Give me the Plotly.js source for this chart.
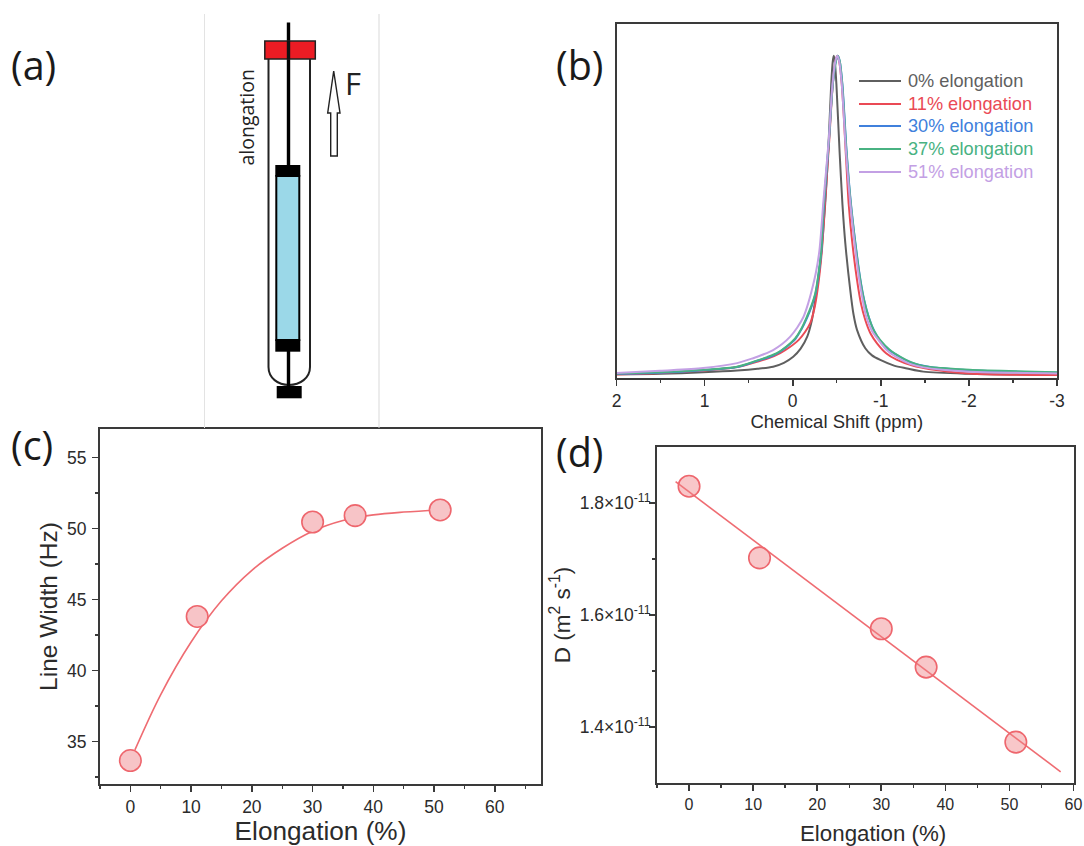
<!DOCTYPE html>
<html>
<head>
<meta charset="utf-8">
<script src="https://cdn.plot.ly/plotly-3.0.1.min.js"></script>
<style>html,body{margin:0;padding:0;background:#fff}#chart{width:1084px;height:846px}</style>
</head>
<body>
<div id="chart"></div>
<script>
// Panel (b): NMR line shapes, x in ppm, y in % of the (unlabelled) intensity axis
const seriesNames = ['0% elongation','11% elongation','30% elongation','37% elongation','51% elongation'];
const seriesColors = ['#5f5f5f','#ea4a55','#4080dc','#48b282','#c3a0e4'];

const ppm0 = [2,1.506,1.017,0.631,0.4,0.222,0.1,-0.006,-0.09,-0.165,-0.215,-0.256,-0.313,-0.364,-0.403,-0.437,-0.455,-0.466,-0.478,-0.496,-0.532,-0.565,-0.597,-0.653,-0.69,-0.73,-0.824,-0.9,-0.994,-1.15,-1.298,-1.483,-1.994,-3];
const int0 = [1.05,1.2,1.6,2.1,2.6,3.2,4.3,6,8.3,11.7,16,22,32.5,47.5,64,83,89.5,91,89.5,83,64,48.9,38.1,24.9,18,13.6,8.4,6.4,5.1,3.5,2.7,1.8,1.2,0.85];

const ppm11 = [2,1.506,1.017,0.631,0.408,0.27,0.142,0.04,-0.066,-0.14,-0.199,-0.245,-0.282,-0.332,-0.364,-0.415,-0.455,-0.485,-0.506,-0.527,-0.557,-0.606,-0.636,-0.673,-0.73,-0.775,-0.824,-0.885,-0.957,-1.06,-1.184,-1.36,-1.563,-1.998,-3];
const int11 = [1,1.4,2.1,3.1,4.6,5.6,7,8.6,10.7,13,15.5,19.5,24.9,36.2,48.5,67.2,83,89.5,91,89.5,83,62,49,39,27.7,21,16.4,12.5,9.8,7,5.1,3.5,2.5,1.3,0.85];

const ppm30 = [2,1.506,1.017,0.631,0.408,0.28,0.18,0.07,-0.03,-0.1,-0.163,-0.215,-0.258,-0.29,-0.326,-0.352,-0.41,-0.455,-0.49,-0.512,-0.534,-0.564,-0.612,-0.657,-0.712,-0.769,-0.812,-0.865,-0.925,-0.994,-1.1,-1.222,-1.35,-1.563,-2.008,-3];
const int30 = [1.2,1.5,2.2,3.1,4.8,5.8,6.9,8.8,11,13.8,17,20.2,23.7,28.5,36,47.5,66.5,83,89.5,91,89.5,83,64,50.3,38.1,27.7,22,17.1,13.3,10.5,7.8,5.9,4.3,3.1,2.2,1.5];

const ppm37 = [2,1.506,1.017,0.631,0.408,0.29,0.18,0.07,-0.028,-0.1,-0.161,-0.21,-0.256,-0.29,-0.324,-0.35,-0.41,-0.455,-0.49,-0.511,-0.534,-0.562,-0.61,-0.655,-0.71,-0.767,-0.81,-0.861,-0.92,-0.994,-1.1,-1.222,-1.35,-1.482,-1.7,-2.008,-3];
const int37 = [1.3,1.6,2.3,3.2,4.9,5.9,7,8.9,11.2,14,17.3,20.3,23.9,29,36.2,48,67,83,89.5,91,89.5,83,64,50.3,38.1,27.7,22,17.3,13.5,10.7,8,6,4.4,3.4,2.8,2.3,1.6];

const ppm51 = [2,1.506,1.017,0.631,0.449,0.33,0.222,0.12,0.028,-0.05,-0.123,-0.175,-0.218,-0.265,-0.304,-0.35,-0.409,-0.452,-0.484,-0.506,-0.528,-0.557,-0.605,-0.65,-0.702,-0.756,-0.795,-0.835,-0.9,-0.974,-1.07,-1.184,-1.33,-1.483,-1.7,-2.008,-3];
const int51 = [1.4,2.06,2.8,4.2,5.6,6.7,7.9,9.6,11.7,14.2,17.3,21,24.9,30,36.2,50.3,67.2,83,89.5,91,89.5,83,64,50.3,38.1,27.7,22,17.3,13.3,10.7,7.8,5.8,4,3,2.3,1.8,1.3];

const ppmSets = [ppm0,ppm11,ppm30,ppm37,ppm51];
const intSets = [int0,int11,int30,int37,int51];

// Panels (c) and (d): shared elongation values
const elongation = [0,11,30,37,51];
const lineWidthHz = [33.65,43.8,50.45,50.9,51.3];
const lineWidthFitX = [0.75,5,10,15,20,25,30,35,40,45,51];
const lineWidthFitY = [34.4,38.3,42,44.9,47.05,48.6,49.8,50.55,50.95,51.15,51.3];

const diffusion = [1.830e-11,1.702e-11,1.5755e-11,1.507e-11,1.373e-11];
const diffusionFitX = [-2.1,58];
const diffusionFitY = [1.838e-11,1.32e-11];
const diffusionTicks = [1.4e-11,1.6e-11,1.8e-11];
const diffusionTickText = ['1.4×10<sup>-11</sup>','1.6×10<sup>-11</sup>','1.8×10<sup>-11</sup>'];
const shiftTicks = [2,1,0,-1,-2,-3];
const shiftTickText = ['2','1','0','-1','-2','-3'];

// ---- layout helpers: pixel position on the 1084x846 page -> paper fraction
const W = 1084, H = 846;
const fx = x => x / W, fy = y => 1 - y / H;
const dx = (a,b) => [fx(a), fx(b)];
const dy = (top,bot) => [fy(bot), fy(top)];
const P = (cmds) => cmds.map(c => typeof c === 'string' ? c : fx(c[0]) + ',' + fy(c[1])).join(' ');

const FONT = 'Liberation Sans, Arial, sans-serif';
const INK = '#2b2b2b', AXIS = '#3a3a3a', FIT = '#ef6c72';

function axis(extra){
  return Object.assign({
    showgrid:false, zeroline:false, showline:true, mirror:true,
    linecolor:AXIS, linewidth:2, ticks:'outside', ticklen:6, tickwidth:1.6, tickcolor:AXIS,
    tickfont:{family:FONT,size:17.5,color:INK}, automargin:false
  }, extra);
}

const traces = [];
seriesNames.forEach((n,i) => traces.push({
  type:'scatter', mode:'lines', name:n, x:ppmSets[i], y:intSets[i], xaxis:'x', yaxis:'y',
  line:{color:seriesColors[i],width:2,shape:'spline',smoothing:0.8}, showlegend:false
}));
traces.push({type:'scatter',mode:'lines',name:'Line width fit',x:lineWidthFitX,y:lineWidthFitY,xaxis:'x2',yaxis:'y2',
  line:{color:FIT,width:1.6,shape:'spline',smoothing:1},showlegend:false});
traces.push({type:'scatter',mode:'markers',name:'Line width',x:elongation,y:lineWidthHz,xaxis:'x2',yaxis:'y2',
  marker:{size:21.5,color:'#f7c4c7',line:{color:'#ee666d',width:1.6}},showlegend:false});
traces.push({type:'scatter',mode:'lines',name:'D fit',x:diffusionFitX,y:diffusionFitY,xaxis:'x3',yaxis:'y3',
  line:{color:FIT,width:1.6},showlegend:false});
traces.push({type:'scatter',mode:'markers',name:'D',x:elongation,y:diffusion,xaxis:'x3',yaxis:'y3',
  marker:{size:21.5,color:'rgba(240,130,136,0.45)',line:{color:'#ee666d',width:1.6}},showlegend:false});

const shapes = [];
const rect = (x0,y0,x1,y1,fill,lc,lw) => shapes.push({type:'rect',xref:'paper',yref:'paper',
  x0:fx(x0),x1:fx(x1),y0:fy(y0),y1:fy(y1),fillcolor:fill,line:{color:lc||fill,width:lw===undefined?0:lw},layer:'above'});
const seg = (x0,y0,x1,y1,c,w) => shapes.push({type:'line',xref:'paper',yref:'paper',
  x0:fx(x0),x1:fx(x1),y0:fy(y0),y1:fy(y1),line:{color:c,width:w},layer:'above'});
const path = (cmds,fill,c,w) => shapes.push({type:'path',xref:'paper',yref:'paper',path:P(cmds),
  fillcolor:fill,line:{color:c,width:w},layer:'above'});

// Schematic (a)
seg(204.5,14,204.5,428,'#e3e3e3',1);
seg(379,14,379,428,'#d9d9d9',1);
path(['M',[268.5,59],'L',[268.5,367],'C',[268.5,378],[278,385],[289,385],'C',[300,385],[310,378],[310,367],'L',[310,59]],'rgba(0,0,0,0)','#222',2);
seg(288.5,22.5,288.5,398,'#000',3.4);
rect(264.8,41,315.3,59,'#ec1c24','#222',1.5);
seg(288.5,41,288.5,59,'#111',3.4);
rect(276.3,176,299.3,340,'#9bd8e8','#000',2);
rect(275.3,165,300.3,176.7,'#000');
rect(275.3,339.3,300.3,351.7,'#000');
rect(276.7,386,301.7,398.3,'#000');
path(['M',[333.7,71],'L',[340,113],'L',[337.3,113],'L',[337.3,156],'L',[330.7,156],'L',[330.7,113],'L',[327.7,113],'Z'],'#fff','#222',1.4);

// Legend keys of panel (b)
const legendRows = [81,104,126,149,172];
legendRows.forEach((y,i) => seg(859,y,901,y,seriesColors[i],i===0?2:1.8));

const ann = (x,y,text,size,color,family,extra) => Object.assign({xref:'paper',yref:'paper',x:fx(x),y:fy(y),
  text,showarrow:false,xanchor:'left',yanchor:'middle',font:{family:family||FONT,size,color:color||INK}},extra||{});
const annotations = [
  ann(9,65,'(a)',39.5,'#1a1a1a','Open Sans'),
  ann(554,65,'(b)',39.5,'#1a1a1a','Open Sans'),
  ann(9,445,'(c)',39.5,'#1a1a1a','Open Sans'),
  ann(554,452,'(d)',39.5,'#1a1a1a','Open Sans'),
  ann(343,83,'F',31,'#222','Open Sans'),
  ann(246.5,118,'alongation',19.5,'#222','Open Sans',{textangle:-90,xanchor:'center'}),
  ann(873,833,'Elongation (%)',22.3,INK,FONT,{xanchor:'center'})
];
seriesNames.forEach((n,i) => annotations.push(ann(906,legendRows[i],n,18.2,seriesColors[i])));

const layout = {
  width:W,height:H,margin:{l:0,r:0,t:0,b:0,pad:0},paper_bgcolor:'#fff',plot_bgcolor:'rgba(0,0,0,0)',
  showlegend:false,shapes,annotations,
  xaxis:axis({domain:dx(616.5,1057),anchor:'y',range:[2,-3],tickvals:shiftTicks,ticktext:shiftTickText,
    minor:{dtick:0.5,ticks:'outside',ticklen:3,tickwidth:1.4,tickcolor:AXIS},
    title:{text:'Chemical Shift (ppm)',font:{family:FONT,size:18.5,color:INK},standoff:1}}),
  yaxis:axis({domain:dy(24,378),anchor:'x',range:[0,100],ticks:'',showticklabels:false}),
  xaxis2:axis({domain:dx(100,541),anchor:'y2',range:[-5,67.6],dtick:10,tick0:0,
    minor:{dtick:5,ticks:'outside',ticklen:3,tickwidth:1.4,tickcolor:AXIS},
    title:{text:'Elongation (%)',font:{family:FONT,size:26.2,color:INK},standoff:9}}),
  yaxis2:axis({domain:dy(429,784),anchor:'x2',range:[32,57],dtick:5,tick0:35,ticklabelstandoff:2,
    minor:{dtick:2.5,ticks:'outside',ticklen:3,tickwidth:1.4,tickcolor:AXIS},
    title:{text:'Line Width (Hz)',font:{family:FONT,size:24.5,color:INK},standoff:2}}),
  xaxis3:axis({domain:dx(657,1073.5),anchor:'y3',range:[-5,60],dtick:10,tick0:0,
    minor:{dtick:5,ticks:'outside',ticklen:3,tickwidth:1.4,tickcolor:AXIS},
    tickfont:{family:FONT,size:16,color:INK}}),
  yaxis3:axis({domain:dy(447,783),anchor:'x3',range:[1.3e-11,1.9e-11],tickvals:diffusionTicks,ticktext:diffusionTickText,ticklabelstandoff:-5,
    minor:{tickvals:[1.5e-11,1.7e-11],ticks:'outside',ticklen:3,tickwidth:1.4,tickcolor:AXIS},
    tickfont:{family:FONT,size:17.5,color:INK},
    title:{text:'D (m<sup>2</sup> s<sup>-1</sup>)',font:{family:FONT,size:22.5,color:INK},standoff:3}})
};
Plotly.newPlot('chart',traces,layout,{displayModeBar:false,staticPlot:true});
</script>
</body>
</html>
